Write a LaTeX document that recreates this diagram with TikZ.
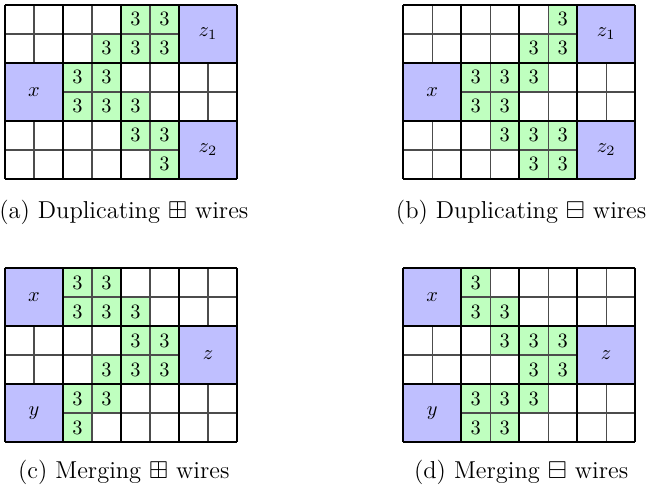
\documentclass[tikz,border=0pt]{standalone}
\usepackage{xcolor}
\usepackage{tikz}
\usepackage{amsmath, amssymb}

\begin{document}
\begin{tikzpicture}[x=0.5cm, y=0.5cm,
			gridline/.style={draw=black!70, line width=0.6pt},
			blockline/.style={draw=black, line width=1.2pt},
			wire/.style={fill=green!25},
			port/.style={fill=blue!25},
			caption/.style={anchor=base, font=\fontsize{12}{14}\selectfont}]

			\useasboundingbox (0,0) rectangle (22.31,16.86);

			% (a)
			\begin{scope}[shift={(0.17,16.69)}]
				\foreach \c/\r in {4/0,5/0,3/1,4/1,5/1,2/2,3/2,2/3,3/3,4/3,4/4,5/4,5/5}
					\fill[wire] (\c,-\r) rectangle +(1,-1);
				\draw[gridline] (0,0) grid[step=1] (8,-6);
				\fill[port] (6,0) rectangle (8,-2);
				\fill[port] (0,-2) rectangle (2,-4);
				\fill[port] (6,-4) rectangle (8,-6);
				\draw[blockline] (0,0) grid[step=2] (8,-6);
				\foreach \c/\r in {4/0,5/0,3/1,4/1,5/1,2/2,3/2,2/3,3/3,4/3,4/4,5/4,5/5}
					\node (a-\c-\r) at (\c+0.5,-\r-0.5) {$3$};
				\node (az1) at (7,-1) {$z_1$};
				\node (ax) at (1,-3) {$x$};
				\node (az2) at (7,-5) {$z_2$};
			\end{scope}
			\node[caption] (capa) at (4.27,9.34) {(a) Duplicating $\boxplus$ wires};

			% (b)
			\begin{scope}[shift={(13.9,16.69)}]
				\foreach \c/\r in {5/0,4/1,5/1,2/2,3/2,4/2,2/3,3/3,3/4,4/4,5/4,4/5,5/5}
					\fill[wire] (\c,-\r) rectangle +(1,-1);
				\draw[gridline] (0,0) grid[step=1] (8,-6);
				\fill[port] (6,0) rectangle (8,-2);
				\fill[port] (0,-2) rectangle (2,-4);
				\fill[port] (6,-4) rectangle (8,-6);
				\draw[blockline] (0,0) grid[step=2] (8,-6);
				\foreach \c/\r in {5/0,4/1,5/1,2/2,3/2,4/2,2/3,3/3,3/4,4/4,5/4,4/5,5/5}
					\node (b-\c-\r) at (\c+0.5,-\r-0.5) {$3$};
				\node (bz1) at (7,-1) {$z_1$};
				\node (bx) at (1,-3) {$x$};
				\node (bz2) at (7,-5) {$z_2$};
			\end{scope}
			\node[caption] (capb) at (17.97,9.34) {(b) Duplicating $\boxminus$ wires};

			% (c)
			\begin{scope}[shift={(0.17,7.62)}]
				\foreach \c/\r in {2/0,3/0,2/1,3/1,4/1,4/2,5/2,3/3,4/3,5/3,2/4,3/4,2/5}
					\fill[wire] (\c,-\r) rectangle +(1,-1);
				\draw[gridline] (0,0) grid[step=1] (8,-6);
				\fill[port] (0,0) rectangle (2,-2);
				\fill[port] (6,-2) rectangle (8,-4);
				\fill[port] (0,-4) rectangle (2,-6);
				\draw[blockline] (0,0) grid[step=2] (8,-6);
				\foreach \c/\r in {2/0,3/0,2/1,3/1,4/1,4/2,5/2,3/3,4/3,5/3,2/4,3/4,2/5}
					\node (c-\c-\r) at (\c+0.5,-\r-0.5) {$3$};
				\node (cx) at (1,-1) {$x$};
				\node (cz) at (7,-3) {$z$};
				\node (cy) at (1,-5) {$y$};
			\end{scope}
			\node[caption] (capc) at (4.27,0.36) {(c) Merging $\boxplus$ wires};

			% (d)
			\begin{scope}[shift={(13.9,7.62)}]
				\foreach \c/\r in {2/0,2/1,3/1,3/2,4/2,5/2,4/3,5/3,2/4,3/4,4/4,2/5,3/5}
					\fill[wire] (\c,-\r) rectangle +(1,-1);
				\draw[gridline] (0,0) grid[step=1] (8,-6);
				\fill[port] (0,0) rectangle (2,-2);
				\fill[port] (6,-2) rectangle (8,-4);
				\fill[port] (0,-4) rectangle (2,-6);
				\draw[blockline] (0,0) grid[step=2] (8,-6);
				\foreach \c/\r in {2/0,2/1,3/1,3/2,4/2,5/2,4/3,5/3,2/4,3/4,4/4,2/5,3/5}
					\node (d-\c-\r) at (\c+0.5,-\r-0.5) {$3$};
				\node (dx) at (1,-1) {$x$};
				\node (dz) at (7,-3) {$z$};
				\node (dy) at (1,-5) {$y$};
			\end{scope}
			\node[caption] (capd) at (17.97,0.36) {(d) Merging $\boxminus$ wires};
		\end{tikzpicture}
\end{document}
